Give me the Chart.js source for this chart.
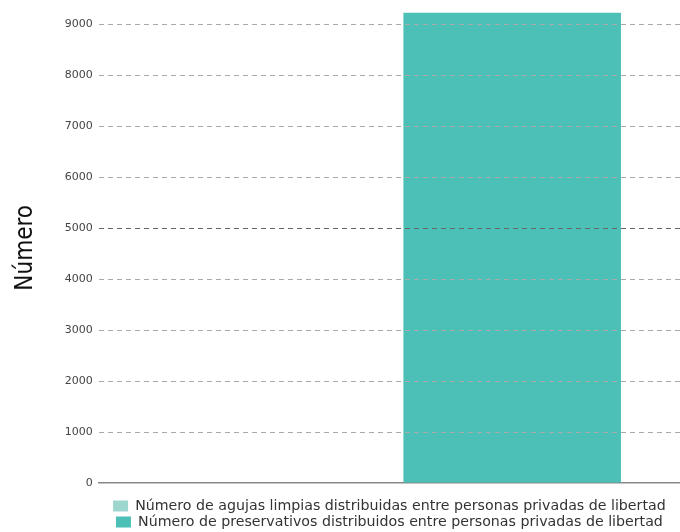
<!DOCTYPE html>
<html>
<head>
<meta charset="utf-8">
<script src="https://cdn.jsdelivr.net/npm/chart.js@4"></script>
<style>
  html, body { margin: 0; padding: 0; background: #fff; }
  #wrap { width: 680px; height: 532px; }
</style>
</head>
<body>
<div id="wrap"><canvas id="grafico"></canvas></div>
<script>
var categorias = [""];
var agujas = [0];
var preservativos = [9230];
var ticksY = [0, 1000, 2000, 3000, 4000, 5000, 6000, 7000, 8000, 9000];
var nombresSeries = [
    "Número de agujas limpias distribuidas entre personas privadas de libertad",
    "Número de preservativos distribuidos entre personas privadas de libertad"
];

new Chart(document.getElementById("grafico"), {
    type: "bar",
    data: {
        labels: categorias,
        datasets: [{
            label: nombresSeries[0],
            data: agujas,
            backgroundColor: "#9dd5cf",
            borderWidth: 0
        }, {
            label: nombresSeries[1],
            data: preservativos,
            backgroundColor: "#4cc0b6",
            borderWidth: 0
        }]
    },
    options: {
        responsive: true,
        maintainAspectRatio: false,
        animation: false,
        categoryPercentage: 0.845,
        barPercentage: 0.886,
        layout: { padding: { top: 12, right: 0, left: 11, bottom: -7 } },
        plugins: {
            tooltip: { enabled: false },
            legend: {
                position: "bottom",
                fullSize: false,
                labels: {
                    boxWidth: 15,
                    boxHeight: 11,
                    padding: 1.8,
                    color: "#333",
                    font: { family: "'DejaVu Sans', sans-serif", size: 14.2 }
                }
            }
        },
        scales: {
            x: {
                ticks: { display: false },
                grid: { display: false, drawTicks: false },
                border: { display: true, color: "#888", width: 1.5 },
                afterFit: function (axis) { axis.height = 14; }
            },
            y: {
                min: 0,
                max: 9230,
                afterBuildTicks: function (axis) {
                    axis.ticks = ticksY.map(function (v) { return { value: v }; });
                },
                ticks: {
                    padding: 6,
                    color: "#444",
                    font: { family: "'DejaVu Sans', sans-serif", size: 11 },
                    callback: function (v) { return String(v); }
                },
                grid: {
                    z: 1,
                    drawTicks: false,
                    lineWidth: 1,
                    color: function (ctx) {
                        if (!ctx.tick || ctx.tick.value === 0) return "rgba(0,0,0,0)";
                        return ctx.tick.value === 5000 ? "#666" : "#aaa";
                    }
                },
                border: { display: false, dash: [5, 4] },
                title: {
                    display: true,
                    text: "Número",
                    color: "#111",
                    padding: { top: 0, bottom: 19 },
                    font: { family: "'Liberation Sans Narrow', 'DejaVu Sans Condensed', sans-serif", size: 24 }
                }
            }
        }
    }
});
</script>
</body>
</html>
